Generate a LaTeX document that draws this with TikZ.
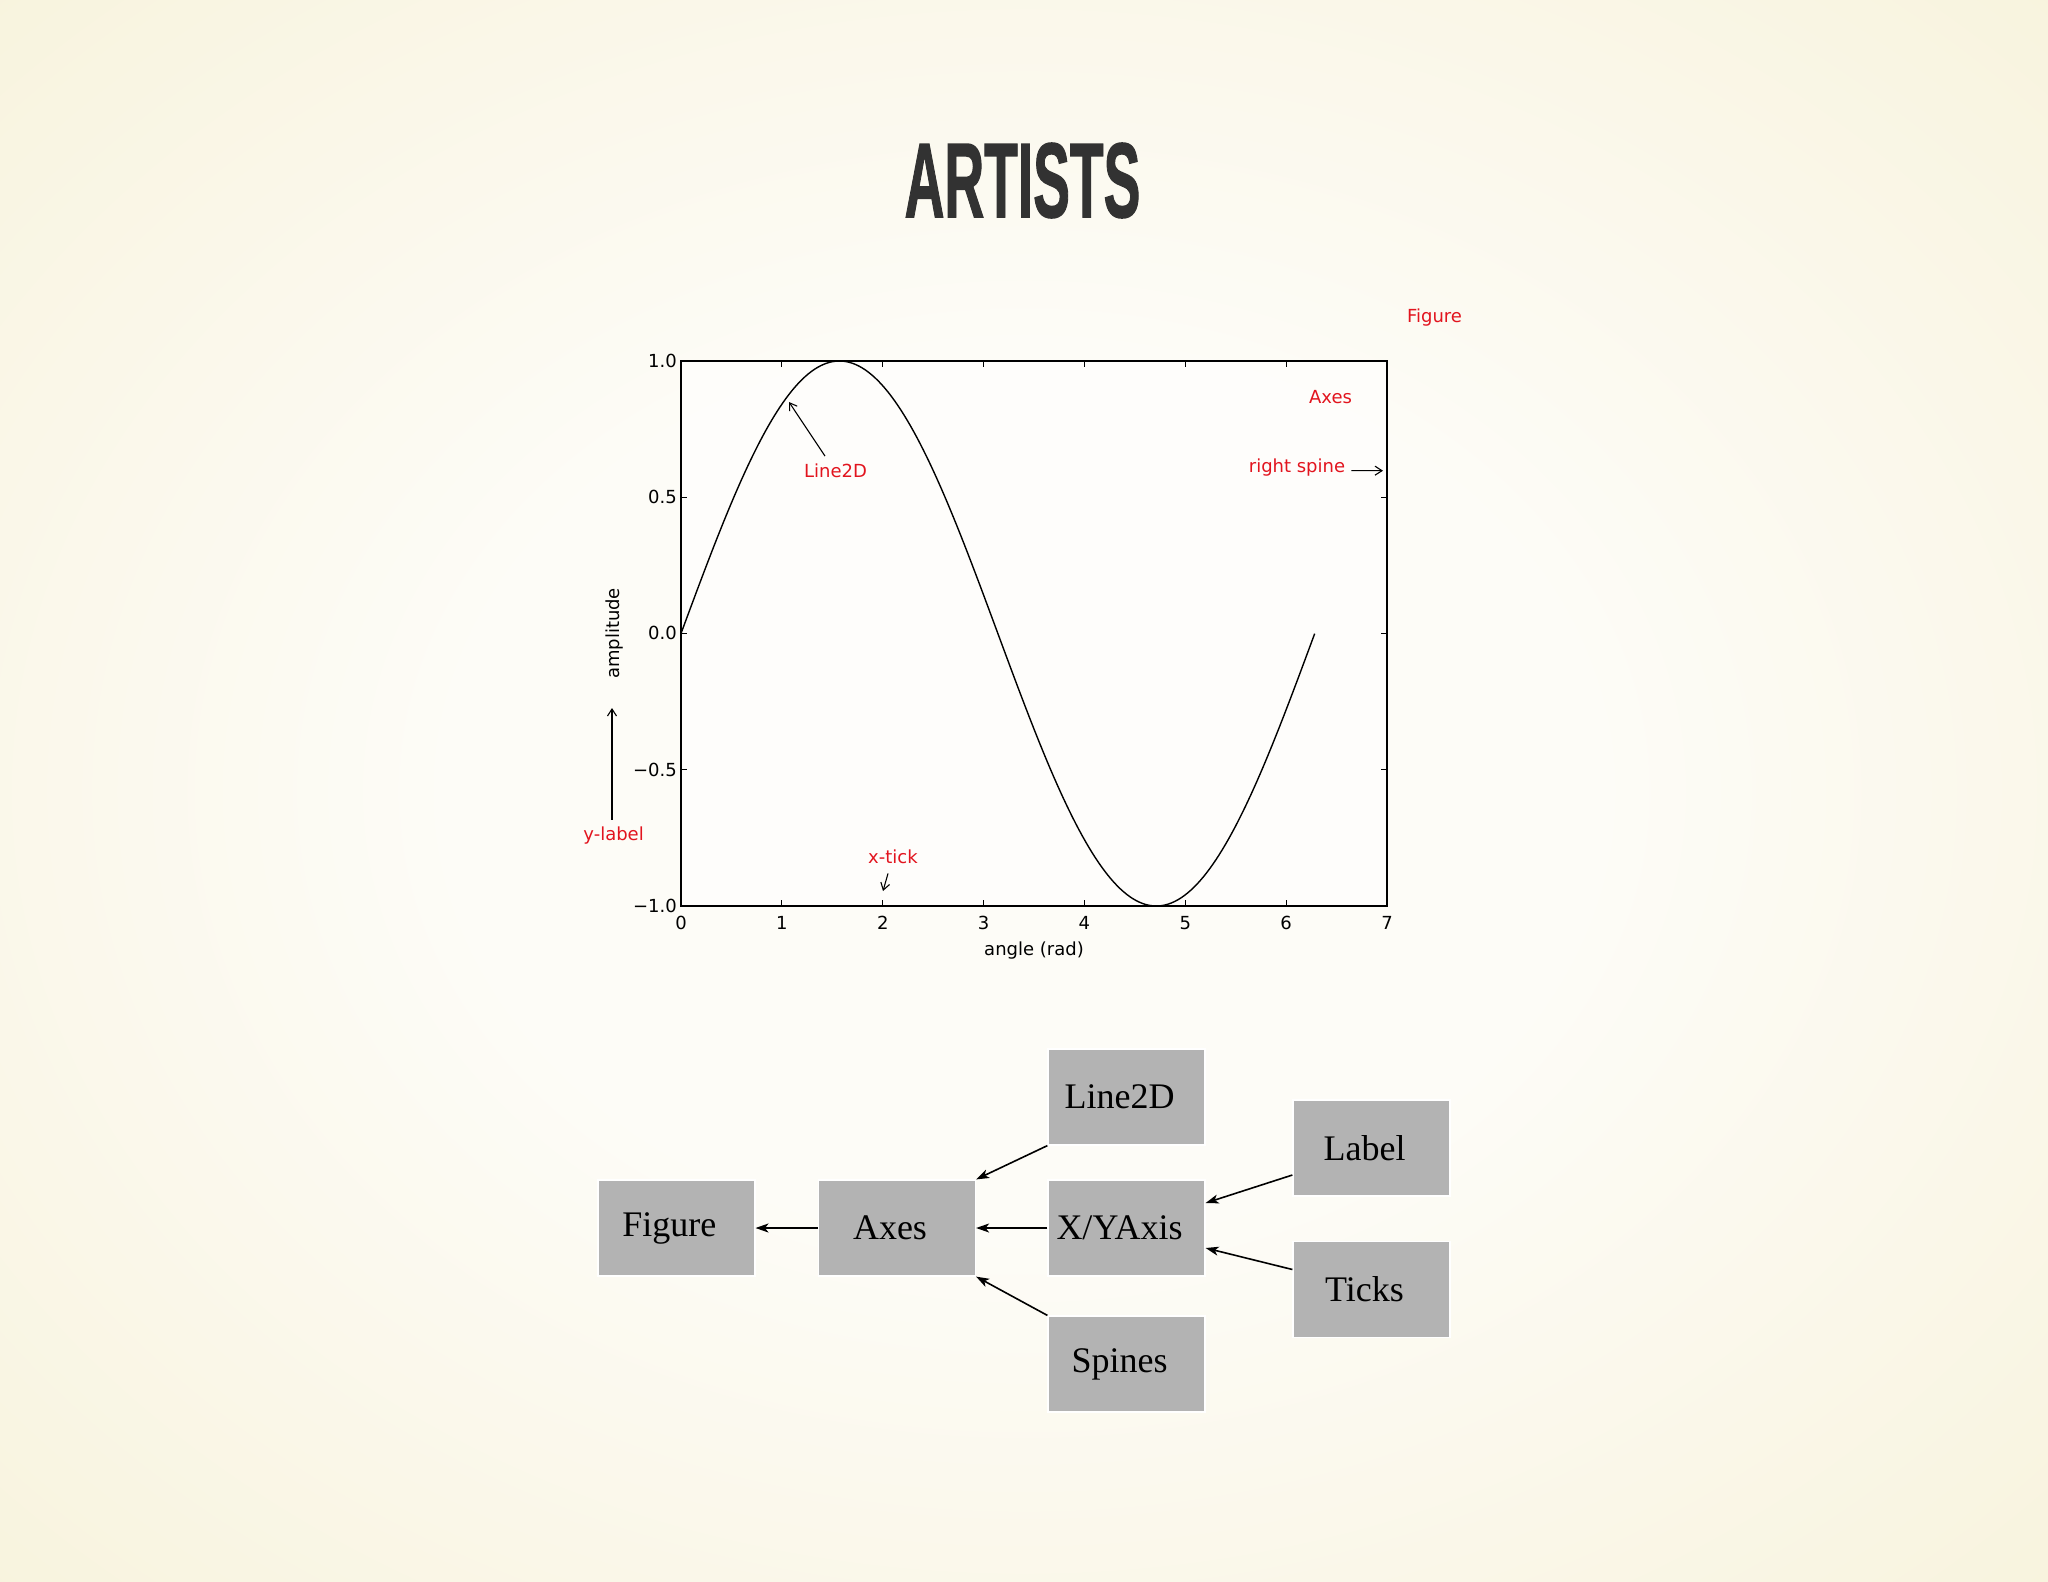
\documentclass[tikz,border=0pt]{standalone}
\usepackage{fontspec}
\usetikzlibrary{arrows.meta}
\setmainfont{Liberation Serif}
\newfontfamily\mplfont{DejaVu Sans}
\newfontfamily\titlefont[FakeBold=1.5]{Liberation Sans}

\definecolor{bgmid}{RGB}{253,252,247}
\definecolor{bgedge}{RGB}{246,240,212}
\definecolor{annot}{RGB}{226,20,30}
\definecolor{boxgray}{RGB}{179,179,179}
\definecolor{titlegray}{RGB}{50,50,50}
\pgfdeclareradialshading{bgglow}{\pgfpoint{0bp}{0bp}}{color(0bp)=(bgmid); color(14bp)=(bgmid); color(44bp)=(bgedge)}

\begin{document}
\begin{tikzpicture}
        [x=1pt,y=-1pt,every node/.style={inner sep=0pt},
         mpltext/.style={font=\mplfont\fontsize{18}{18}\selectfont},
         redlabel/.style={mpltext,text=annot,anchor=base},
         annarrow/.style={-{Straight Barb[length=7pt,width=9pt]},line width=1.1pt},
         artbox/.style={rectangle,fill=boxgray,draw=white,line width=1.2pt,
                        minimum width=157pt,minimum height=96pt,font=\fontsize{36}{36}\selectfont,
                        execute at end node=\kern14pt},
         treearrow/.style={-{Stealth[length=13pt,width=9pt,inset=3.5pt]},line width=1.6pt}]
        \useasboundingbox (0,0) rectangle (2048,1582);
        \shade[shading=bgglow] (0,0) rectangle (2048,1582);

        % title
        \node[anchor=base,text=titlegray] (title) at (1022.5,217)
            {\titlefont\bfseries\fontsize{106}{106}\selectfont\scalebox{0.52}[1]{ARTISTS}};

        % plot frame
        \fill[white,opacity=0.5] (681,361) rectangle (1387,906);
        \draw[line width=1.3pt] (681,361) rectangle (1387,906);
        \foreach \k in {1,...,6} {
            \draw[line width=1pt] ({681+100.86*\k},906) -- ++(0,-6);
            \draw[line width=1pt] ({681+100.86*\k},361) -- ++(0,6);
        }
        \foreach \v in {-0.5,0,0.5} {
            \draw[line width=1pt] (681,{633.5-272.5*(\v)}) -- ++(6,0);
            \draw[line width=1pt] (1387,{633.5-272.5*(\v)}) -- ++(-6,0);
        }

        % tick labels
        \foreach \k in {0,...,7}
            \node[mpltext,anchor=base] (xt\k) at ({681+100.86*\k},929) {\k};
        \foreach \v/\s/\n in {1/1.0/a,0.5/0.5/b,0/0.0/c,-0.5/−0.5/d,-1/−1.0/e}
            \node[mpltext,anchor=base east] (yt\n) at (677,{633.5-272.5*(\v)+6.4}) {\s};

        \node[mpltext,anchor=base] (xlab) at (1034,955) {angle (rad)};
        \node[mpltext,anchor=base,rotate=90] (ylab) at (619.5,633.5) {amplitude};

        % sine
        \draw[line width=1.4pt] plot[domain=0:6.2832,samples=200,variable=\t]
            ({681+100.86*\t},{633.5-272.5*sin(\t r)});

        % red labels
        \node[redlabel] (figlab)   at (1434.5,322) {Figure};
        \node[redlabel] (axlab)    at (1330.5,403) {Axes};
        \node[redlabel] (linelab)  at (835.5,477)  {Line2D};
        \node[redlabel] (spinelab) at (1297,472)   {right spine};
        \node[redlabel] (ylabl)    at (613.6,840)  {y-label};
        \node[redlabel] (xticklab) at (893,863)    {x-tick};

        \coordinate (linetip)  at (789,402);
        \coordinate (spinetip) at (1383,470.7);
        \coordinate (ylabtip)  at (612,708);
        \coordinate (xticktip) at (883,891);

        \draw[annarrow] ([xshift=-10.5pt,yshift=7pt]linelab.north) -- (linetip);
        \draw[annarrow] ([xshift=6pt,yshift=-3.6pt]spinelab.east)  -- (spinetip);
        \draw[annarrow] ([xshift=-1.6pt,yshift=6.3pt]ylabl.north)  -- (ylabtip);
        \draw[annarrow] ([xshift=-5pt,yshift=-10pt]xticklab.south) -- (xticktip);

        % artist tree
        \node[artbox] (Figure) at (676.4,1228)  {Figure};
        \node[artbox] (Axes)   at (897,1228)    {Axes};
        \node[artbox] (Line2D) at (1126.5,1097) {Line2D};
        \node[artbox] (XYAxis) at (1126.5,1228) {X/YAxis};
        \node[artbox] (Spines) at (1126.5,1364) {Spines};
        \node[artbox] (Label)  at (1371.5,1148) {Label};
        \node[artbox] (Ticks)  at (1371.5,1289.5) {Ticks};

        \draw[treearrow] (Axes)   -- (Figure);
        \draw[treearrow] (XYAxis) -- (Axes);
        \draw[treearrow] (Line2D.south west) -- (Axes.north east);
        \draw[treearrow] (Spines.north west) -- (Axes.south east);
        \draw[treearrow] ([yshift=-27pt]Label.west) -- ([yshift=25pt]XYAxis.east);
        \draw[treearrow] ([yshift=20pt]Ticks.west)  -- ([yshift=-20pt]XYAxis.east);
\end{tikzpicture}
\end{document}
